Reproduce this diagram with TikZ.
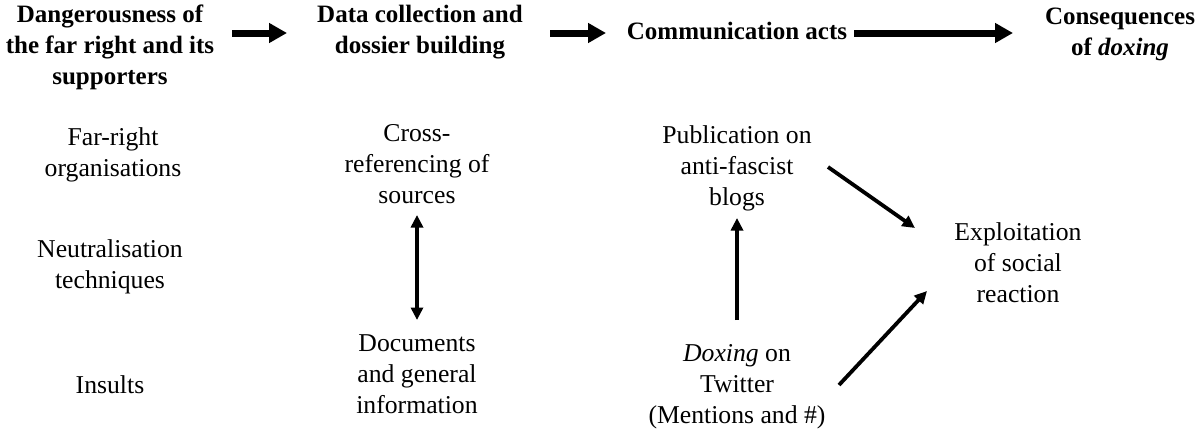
\documentclass[tikz,border=0pt]{standalone}
\usepackage{fontspec}
\setmainfont{Liberation Serif}
\usetikzlibrary{arrows.meta,calc}
\tikzset{
  lbl/.style={align=center, inner sep=0pt, font=\fontsize{25.7}{31}\selectfont},
  hd/.style={align=center, inner sep=0pt, font=\bfseries\fontsize{25}{31}\selectfont},
  htip/.tip={Triangle[length=18pt,width=19pt]},
  btip/.tip={Triangle[length=12.5pt,width=12pt]},
  harrow/.style={line width=7pt, -htip},
  barrow/.style={line width=3.8pt, -btip},
  darrow/.style={line width=3.8pt, btip-btip}
}
\begin{document}
\begin{tikzpicture}[x=1pt,y=-1pt]
\useasboundingbox (0,0) rectangle (1200,434);
% headers
\node[hd] (h1) at (110,47) {Dangerousness of\\the far right and its\\supporters};
\node[hd] (h2) at (420,32.5) {Data collection and\\dossier building};
\node[hd] (h3) at (737,31) {Communication acts};
\node[hd] (h4) at (1120,34) {Consequences\\of \textit{doxing}};
\coordinate (hy) at (0,33);
\draw[harrow] ($(h1.center |- hy)+(122,0)$) -- ($(h2.center |- hy)+(-133,0)$);
\draw[harrow] ($(h2.center |- hy)+(130,0)$) -- ($(h3.center |- hy)+(-131,0)$);
\draw[harrow] ($(h3.center |- hy)+(117,0)$) -- ($(h4.center |- hy)+(-107,0)$);
% left column
\node[lbl] (l1) at (113,155) {Far-right\\organisations};
\node[lbl] (l2) at (110,267) {Neutralisation\\techniques};
\node[lbl] (l3) at (110,385) {Insults};
% second column
\node[lbl] (cross) at (417,164) {Cross-\\referencing of\\sources};
\node[lbl] (docs) at (417,374) {Documents\\and general\\information};
% third column
\node[lbl] (pub) at (737,168) {Publication on\\anti-fascist\\blogs};
\node[lbl] (dox) at (737,387) {\textit{Doxing} on\\Twitter\\(Mentions and \#)};
% fourth column
\node[lbl] (expl) at (1018,263) {Exploitation\\of social\\reaction};
% connectors
\draw[darrow] ($(cross.center)+(0,51)$) -- ($(docs.center)+(0,-54)$);
\draw[barrow] ($(dox.center)+(0,-67)$) -- ($(pub.center)+(0,50)$);
\draw[barrow] ($(pub.center)+(91,-1)$) -- ($(expl.center)+(-103,-35)$);
\draw[barrow] ($(dox.center)+(102,-2)$) -- ($(expl.center)+(-91,28)$);
\end{tikzpicture}
\end{document}
